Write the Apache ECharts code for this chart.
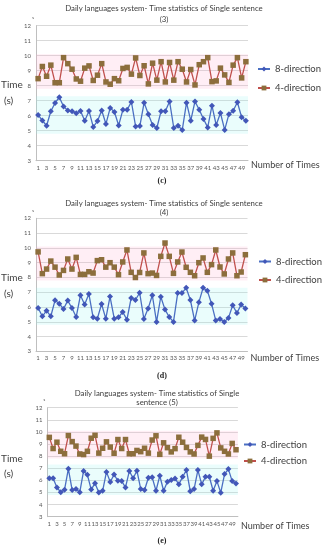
<!DOCTYPE html>
<html>
<head>
<meta charset="utf-8">
<script src="https://cdn.jsdelivr.net/npm/echarts@6/dist/echarts.min.js"></script>
<style>html,body{margin:0;padding:0;background:#fff}#c{width:325px;height:550px}</style>
</head>
<body>
<div id="c"></div>
<script>
// ---- data ----
var categories = [];
for (var i = 1; i <= 50; i++) categories.push(String(i));
var yTicks = [3, 4, 5, 6, 7, 8, 9, 10, 11, 12];

var c3_8dir = [6.05,5.68,5.33,6.3,6.85,7.23,6.62,6.35,6.3,6.17,6.32,5.67,6.32,5.25,5.64,6.35,5.45,6.52,6.25,5.35,6.4,6.4,6.92,5.28,5.32,6.87,6.1,5.38,5.18,6.3,6.3,6.95,5.18,5.33,5.05,6.87,5.67,6.95,6.4,5.78,5.22,6.67,5.38,6.18,5.05,6.1,6.33,6.9,5.9,5.67];
var c3_4dir = [8.47,9.28,8.63,9.37,8.2,8.2,9.87,9.47,9.1,8.45,8.3,9.17,9.32,8.35,8.7,9.47,8.25,8.1,8.47,8.33,9.15,9.22,8.77,9.85,8.68,9.33,8.12,9.5,8.37,9.6,8.25,9.55,8.37,9.6,9.1,8.25,9.08,8.05,9.4,9.6,9.87,8.27,8.32,9.17,8.72,8.22,9.37,9.87,8.52,9.6];

var c4_8dir = [5.94,5.38,5.76,5.38,6.46,6.23,5.87,6.44,5.94,5.33,6.8,6.17,6.89,5.31,5.22,6.21,5.22,6.71,5.22,5.31,5.67,5.15,6.62,6.48,6.97,5.2,5.9,6.8,5.0,6.7,5.83,5.33,5.0,6.95,6.95,7.3,6.48,5.09,6.32,7.3,7.11,6.23,5.09,5.2,5.0,5.27,6.12,5.6,6.17,5.9];
var c4_4dir = [9.73,8.26,8.57,9.11,8.7,8.17,8.48,9.25,8.57,9.36,8.21,8.21,8.39,8.3,9.14,9.2,8.7,9.0,8.7,8.19,9.05,9.86,8.35,8.0,8.34,9.66,8.26,8.3,8.14,9.43,10.33,9.43,8.28,9.05,9.72,8.69,8.35,8.12,9.0,9.32,8.35,8.87,9.86,8.71,8.24,9.25,9.66,8.12,8.37,9.54];

var c5_8dir = [6.18,6.18,5.42,5.02,5.23,6.95,5.2,5.28,5.02,6.78,6.46,5.24,5.77,5.0,5.14,6.7,5.87,6.48,5.97,5.94,5.42,6.77,6.17,6.8,5.28,5.2,6.22,6.25,5.14,6.38,5.14,5.89,6.02,6.16,5.67,6.3,6.85,5.11,5.28,6.85,5.67,6.3,6.3,5.14,5.94,4.98,6.52,6.93,5.94,5.75];
var c5_4dir = [9.55,8.63,9.15,8.4,8.2,9.7,9.2,8.83,8.18,8.13,8.4,9.48,9.72,8.25,8.65,9.18,8.75,8.24,9.37,8.63,9.37,8.2,8.2,8.47,8.37,8.65,8.25,9.33,9.68,8.15,9.1,8.7,8.35,8.62,9.56,9.15,8.72,8.35,8.18,8.89,9.57,9.38,8.0,9.47,9.92,8.68,8.4,8.18,9.05,8.53];

var titles = ["Daily languages system- Time statistics of Single sentence", "Daily languages system- Time statistics of Single sentence", "Daily languages system- Time statistics of Single"];
var subTitles = ["(3)", "(4)", "sentence (5)"];
var panelLabels = ["(c)", "(d)", "(e)"];
var seriesNames = ["8-direction", "4-direction"];

// ---- layout ----
var FONT = 'Lato, "Open Sans", sans-serif';
var TXT = '#404040';
var BLUE = '#4a6fc2', BLUE_M = '#4257b8';
var RED = '#c0504d', BROWN = '#8c6e3c';

var grids = [
  {left: 36, top: 25.7, width: 212, height: 135},
  {left: 36, top: 218.3, width: 211.5, height: 133.2},
  {left: 47.4, top: 407.7, width: 190.5, height: 109}
];
var data8 = [c3_8dir, c4_8dir, c5_8dir];
var data4 = [c3_4dir, c4_4dir, c5_4dir];

var xAxes = [], yAxes = [], series = [], legends = [], graphics = [];
var titleY = [[8, 19], [203, 212], [393, 402.5]];
var titleX = [164, 164, 157];
var legendTop = [[65, 84], [257.5, 276], [440.5, 457]];
var legendLeft = [252, 253, 238];
var timeY = [[85, 101], [277.5, 293.5], [458.5, 474]];
var xNameY = [165, 358, 526];
var panelY = [181, 376, 541];

for (var g = 0; g < 3; g++) {
  xAxes.push({
    type: 'category', gridIndex: g, data: categories, boundaryGap: true,
    axisLine: {lineStyle: {color: '#bfbfbf', width: 1}},
    axisTick: {show: false},
    axisLabel: {interval: 1, fontSize: 6, fontFamily: FONT, color: '#595959', margin: 4}
  });
  yAxes.push({
    type: 'value', gridIndex: g, min: yTicks[0], max: yTicks[yTicks.length - 1], interval: 1,
    axisLine: {show: true, lineStyle: {color: '#bfbfbf'}},
    axisTick: {show: false},
    axisLabel: {fontSize: 6, fontFamily: FONT, color: '#595959', margin: 5},
    splitLine: {lineStyle: {color: '#d9d9d9', width: 1}}
  });
  series.push({
    name: seriesNames[0], type: 'line', xAxisIndex: g, yAxisIndex: g, data: data8[g],
    symbol: 'diamond', symbolSize: 6, showSymbol: true, showAllSymbol: true,
    lineStyle: {color: BLUE, width: 1.3}, itemStyle: {color: BLUE_M},
    z: 3,
    markArea: {silent: true, itemStyle: {color: 'rgba(150,245,240,0.2)'}, data: [[{yAxis: 4.8}, {yAxis: 7.3}]]}
  });
  series.push({
    name: seriesNames[1], type: 'line', xAxisIndex: g, yAxisIndex: g, data: data4[g],
    symbol: 'rect', symbolSize: 5.5, showSymbol: true, showAllSymbol: true,
    lineStyle: {color: RED, width: 1.3}, itemStyle: {color: BROWN},
    z: 3,
    markArea: {silent: true, itemStyle: {color: 'rgba(255,170,205,0.2)'}, data: [[{yAxis: 7.8}, {yAxis: 10.1}]]}
  });
  for (var k = 0; k < 2; k++) {
    legends.push({
      left: legendLeft[g], top: legendTop[g][k] - 6, orient: 'vertical',
      data: [seriesNames[k]], itemWidth: 12, itemHeight: 6, itemGap: 4,
      textStyle: {fontSize: 9.5, fontFamily: FONT, color: TXT}, selectedMode: false
    });
  }
  graphics.push({type: 'text', style: {text: titles[g], x: titleX[g], y: titleY[g][0], textAlign: 'center', textVerticalAlign: 'middle', font: '7.8px ' + FONT, fill: TXT}});
  graphics.push({type: 'text', style: {text: subTitles[g], x: titleX[g], y: titleY[g][1], textAlign: 'center', textVerticalAlign: 'middle', font: '7.8px ' + FONT, fill: TXT}});
  graphics.push({type: 'text', style: {text: 's', x: grids[g].left - 3, y: grids[g].top - 8, textAlign: 'center', textVerticalAlign: 'middle', font: '4px ' + FONT, fill: TXT}});
  graphics.push({type: 'text', style: {text: 'Time', x: 1, y: timeY[g][0], textAlign: 'left', textVerticalAlign: 'middle', font: '10px ' + FONT, fill: TXT}});
  graphics.push({type: 'text', style: {text: '(s)', x: 4, y: timeY[g][1], textAlign: 'left', textVerticalAlign: 'middle', font: '10px ' + FONT, fill: TXT}});
  graphics.push({type: 'text', style: {text: 'Number of Times', x: grids[g].left + grids[g].width + 3, y: xNameY[g], textAlign: 'left', textVerticalAlign: 'middle', font: '9px ' + FONT, fill: TXT}});
  graphics.push({type: 'text', style: {text: panelLabels[g], x: 162, y: panelY[g], textAlign: 'center', textVerticalAlign: 'middle', font: 'bold 8px "Liberation Serif", serif', fill: '#222'}});
}

var chart = echarts.init(document.getElementById('c'), null, {renderer: 'canvas'});
chart.setOption({
  animation: false,
  backgroundColor: '#fff',
  grid: grids,
  xAxis: xAxes,
  yAxis: yAxes,
  legend: legends,
  series: series,
  graphic: graphics
});
</script>
</body>
</html>
